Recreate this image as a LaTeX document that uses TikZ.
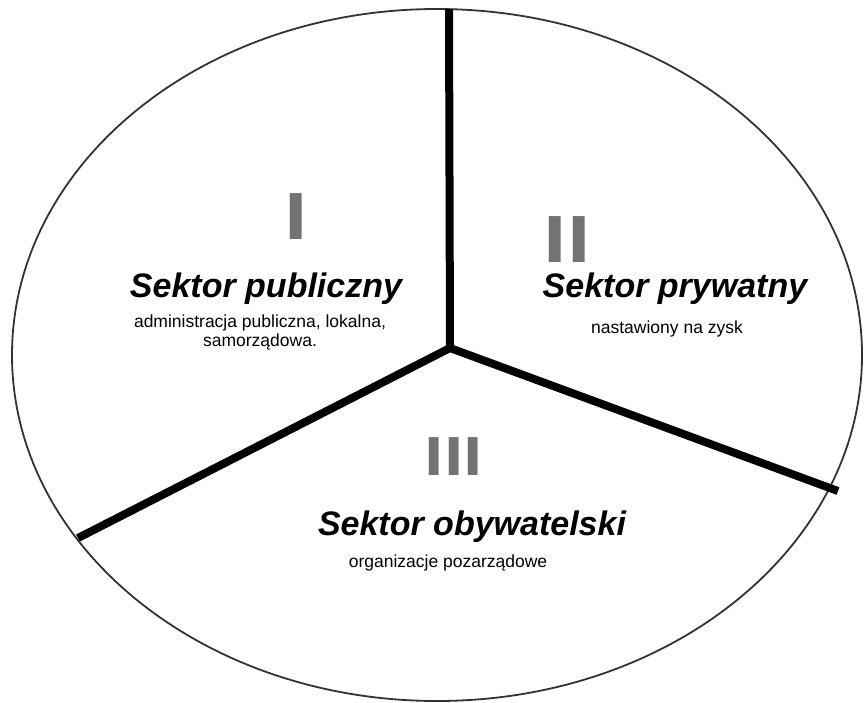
\documentclass[tikz,border=0pt]{standalone}
\usepackage{fontspec}
\setmainfont{Liberation Sans}
\newfontfamily\numfont{DejaVu Sans}
\usetikzlibrary{calc}

\begin{document}
\begin{tikzpicture}[x=1pt, y=-1pt,
                    rim/.style={draw=black!80, line width=1.8pt},
                    spoke/.style={line width=8pt, line join=miter},
                    numeral/.style={inner sep=0pt, text=black!55, font=\numfont\bfseries\fontsize{63}{63}\selectfont},
                    title/.style={anchor=base, inner sep=0pt, text height=24pt, text depth=7pt, font=\bfseries\itshape\fontsize{34}{40}\selectfont},
                    note/.style={anchor=base, inner sep=0pt, align=center, font=\fontsize{17.5}{19}\selectfont}
                    ]
    \useasboundingbox (0,0) rectangle (864,702);

    \coordinate (E) at (437,355);
    \coordinate (O) at (450,348);
    \coordinate (T) at (449,9);
    \coordinate (L) at (78,538);
    \coordinate (R) at (838,491);

    \draw[rim] (E) ellipse [x radius=425, y radius=346];

    \draw[spoke] (T) -- (O);
    \draw[spoke] (L) -- (O) -- (R);

    \node[numeral] (numI) at (296,217) {I};
    \node[numeral] (numII) at (567,240) {II};
    \node[numeral, font=\numfont\bfseries\fontsize{52}{52}\selectfont] (numIII) at (454,457) {III};

    \node[title] (publ) at (266,297) {Sektor publiczny};
    \node[note] (publnote) at (260,346) {administracja publiczna, lokalna,\\samorządowa.};

    \node[title] (pryw) at (675,297) {Sektor prywatny};
    \node[note] (prywnote) at (667,333) {nastawiony na zysk};

    \node[title] (obyw) at (472,535) {Sektor obywatelski};
    \node[note] (obywnote) at (448,567) {organizacje pozarządowe};
\end{tikzpicture}
\end{document}
